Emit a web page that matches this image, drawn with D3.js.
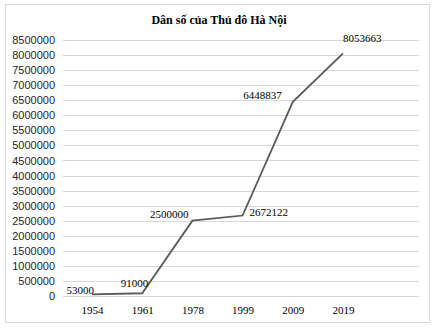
<!DOCTYPE html>
<html><head><meta charset="utf-8">
<script src="https://cdn.jsdelivr.net/npm/d3@7"></script>
<style>body{margin:0;background:#fff}</style>
</head><body>
<svg id="c" width="437" height="330"></svg>
<script>
const years = ["1954","1961","1978","1999","2009","2019"];
const population = [53000, 91000, 2500000, 2672122, 6448837, 8053663];
const yTicks = d3.range(0, 8500001, 500000);
// label placement (anchor + offset from point), styling only
const labelAnchor = ["end","end","end","start","end","start"];
const labelDx = [2, 6, -4, 7, -11, 0];
const labelDy = [-4, -10, -7, -3, -7, -15];

const svg = d3.select("#c");
svg.append("rect").attr("x",5.5).attr("y",4.5).attr("width",424).attr("height",318)
  .attr("fill","#fff").attr("stroke","#d9d9d9");

const plot = {left:63, right:419, top:40, bottom:296};
const x = d3.scalePoint().domain(years).range([92, 343]);
const y = d3.scaleLinear().domain([0, 8500000]).range([plot.bottom, plot.top]);

svg.append("text").attr("x",219).attr("y",24).attr("text-anchor","middle")
  .attr("font-family","Liberation Serif").attr("font-weight","bold").attr("font-size",12)
  .attr("fill","#000").text("Dân số của Thủ đô Hà Nội");

// grid
svg.append("g").selectAll("line").data(yTicks).join("line")
  .attr("x1",plot.left).attr("x2",plot.right)
  .attr("y1",d=>Math.round(y(d))+0.5).attr("y2",d=>Math.round(y(d))+0.5)
  .attr("stroke","#d9d9d9").attr("stroke-width",1);

// y axis labels
const yAxis = d3.axisLeft(y).tickValues(yTicks).tickSize(0).tickPadding(8).tickFormat(d3.format("d"));
const gy = svg.append("g").attr("transform",`translate(${plot.left},0)`).call(yAxis);
gy.select(".domain").remove();
gy.selectAll("text").attr("font-family","Liberation Sans").attr("font-size",11).attr("fill","#262626");

// x axis labels
const xAxis = d3.axisBottom(x).tickSize(0).tickPadding(10);
const gx = svg.append("g").attr("transform",`translate(0,${plot.bottom})`).call(xAxis);
gx.select(".domain").remove();
gx.selectAll("text").attr("font-family","Liberation Serif").attr("font-size",11).attr("fill","#000");

// line
const line = d3.line().x((d,i)=>x(years[i])).y(d=>y(d));
svg.append("path").datum(population).attr("d",line)
  .attr("fill","none").attr("stroke","#595959").attr("stroke-width",1.8);

// data labels
svg.append("g").selectAll("text").data(population).join("text")
  .attr("x",(d,i)=>x(years[i]) + labelDx[i])
  .attr("y",(d,i)=>y(d) + labelDy[i])
  .attr("dy","0.35em")
  .attr("text-anchor",(d,i)=>labelAnchor[i])
  .attr("font-family","Liberation Serif").attr("font-size",11).attr("fill","#000")
  .text(d=>d3.format("d")(d));
</script>
</body></html>
